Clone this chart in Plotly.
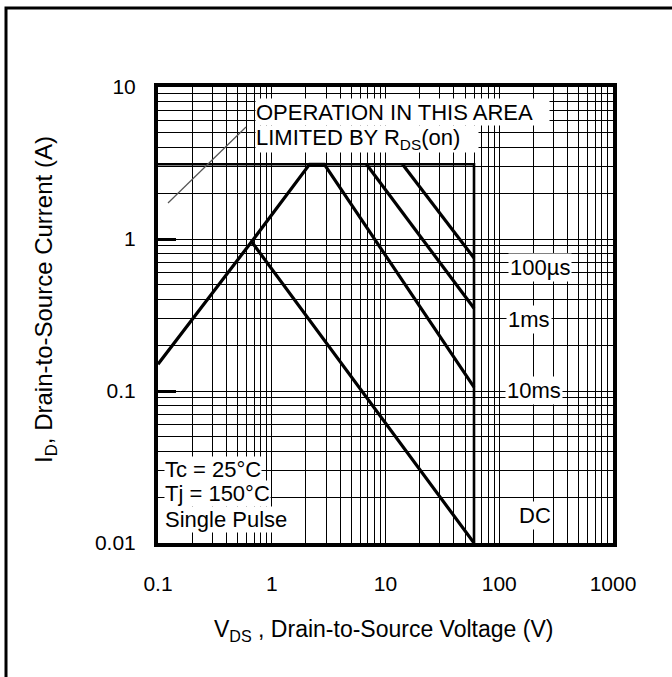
import plotly.graph_objects as go

# Safe operating area curves (drain current vs. drain-source voltage)
vds_dc = [0.1, 0.665, 60]
id_dc = [0.15, 0.96, 0.01]

vds_10ms = [0.665, 2.15, 2.9, 60]
id_10ms = [0.96, 3.1, 3.1, 0.106]

vds_1ms = [6.8, 60]
id_1ms = [3.1, 0.35]

vds_100us = [14.1, 60]
id_100us = [3.1, 0.75]

# Pulsed current ceiling and breakdown voltage boundary
vds_limit = [0.1, 60, 60]
id_limit = [3.1, 3.1, 0.01]

x_ticks = [0.1, 1, 10, 100, 1000]
x_ticktext = ["0.1", "1", "10", "100", "1000"]
y_ticks = [0.01, 0.1, 1, 10]
y_ticktext = ["0.01", "0.1", "1", "10"]

curve_labels = ["100\u00b5s", "1ms", "10ms", "DC"]

FONT = "Liberation Sans, Arial, sans-serif"
W, H = 672, 677
L, R, T, B = 158, 59, 87, 134
PW, PH = W - L - R, H - T - B


def px(x):
    return (x - L) / PW


def py(y):
    return (H - B - y) / PH


minor_x = [m * 10.0 ** e for e in range(-1, 3) for m in range(2, 10)]
minor_y = [m * 10.0 ** e for e in range(-2, 1) for m in range(2, 10)]

fig = go.Figure()
curve_style = dict(color="black", width=3.2)
for xs, ys in [(vds_dc, id_dc), (vds_10ms, id_10ms), (vds_1ms, id_1ms),
               (vds_100us, id_100us)]:
    fig.add_trace(go.Scatter(x=xs, y=ys, mode="lines", line=curve_style,
                             hoverinfo="skip", showlegend=False))
fig.add_trace(go.Scatter(x=vds_limit, y=id_limit, mode="lines",
                         line=dict(color="black", width=2.6),
                         hoverinfo="skip", showlegend=False))

axis_common = dict(
    type="log",
    showgrid=True, gridcolor="black", gridwidth=1.2,
    showline=True, linecolor="black", linewidth=4, mirror=True,
    zeroline=False,
    tickfont=dict(family=FONT, size=21, color="black"),
)

fig.update_xaxes(
    **axis_common,
    range=[-1, 3],
    tickvals=x_ticks, ticktext=x_ticktext,
    ticks="", ticklabelstandoff=19,
    minor=dict(tickvals=minor_x, showgrid=True, gridcolor="black", gridwidth=1.2, ticks=""),
)
fig.update_yaxes(
    **axis_common,
    range=[-2, 1],
    tickvals=y_ticks, ticktext=y_ticktext,
    ticks="inside", ticklen=18, tickwidth=2.5, tickcolor="black",
    ticklabelstandoff=14,
    minor=dict(tickvals=minor_y, showgrid=True, gridcolor="black", gridwidth=1.2, ticks=""),
)

shapes = [
    # outer frame
    dict(type="rect", xref="paper", yref="paper", x0=px(6), x1=3, y0=-3, y1=py(8),
         line=dict(color="black", width=3), fillcolor="rgba(0,0,0,0)"),
    # blank area behind the test-condition note
    dict(type="rect", xref="paper", yref="paper", x0=px(162), x1=px(276), y0=py(538), y1=py(451),
         line=dict(width=0), fillcolor="white", layer="between"),
    # leader line to the R_DS(on) boundary
    dict(type="line", xref="paper", yref="paper", x0=px(168), y0=py(203), x1=px(246), y1=py(127),
         line=dict(color="#555555", width=1.2)),
]
fig.update_layout(shapes=shapes)

ann_font = dict(family=FONT, size=22, color="black")
annotations = [
    dict(text="OPERATION IN THIS AREA", x=px(255), y=py(112), width=293, height=26),
    dict(text="LIMITED BY R<sub>DS</sub>(on)", x=px(255), y=py(139), width=222, height=26),
]
for a in annotations:
    a.update(xref="paper", yref="paper", xanchor="left", yanchor="middle", align="left",
             showarrow=False, bgcolor="white", borderpad=0, font=ann_font)

label_pos = [(540, 267), (529, 319), (534, 390), (535, 515)]
for txt, (lx, ly) in zip(curve_labels, label_pos):
    annotations.append(dict(text=txt, x=px(lx), y=py(ly), xref="paper", yref="paper",
                            xanchor="center", yanchor="middle", showarrow=False,
                            bgcolor="white", borderpad=1, font=ann_font))

notes = [("Tc = 25\u00b0C", 469), ("Tj = 150\u00b0C", 493), ("Single Pulse", 519)]
for txt, ly in notes:
    annotations.append(dict(text=txt, x=px(164), y=py(ly), xref="paper", yref="paper",
                            xanchor="left", yanchor="middle", showarrow=False,
                            bgcolor="white", borderpad=0, font=ann_font))

annotations.append(dict(text="I<sub>D</sub>, Drain-to-Source Current (A)", x=px(45), y=py(300),
                        xref="paper", yref="paper", xanchor="center", yanchor="middle",
                        textangle=-90, showarrow=False, font=dict(family=FONT, size=24, color="black")))
annotations.append(dict(text="V<sub>DS</sub> , Drain-to-Source Voltage (V)", x=px(383), y=py(630),
                        xref="paper", yref="paper", xanchor="center", yanchor="middle",
                        showarrow=False, font=dict(family=FONT, size=23, color="black")))

fig.update_layout(
    annotations=annotations,
    width=W, height=H,
    margin=dict(l=L, r=R, t=T, b=B, pad=0),
    paper_bgcolor="white", plot_bgcolor="white",
    showlegend=False,
)

fig.write_html("out.html")
